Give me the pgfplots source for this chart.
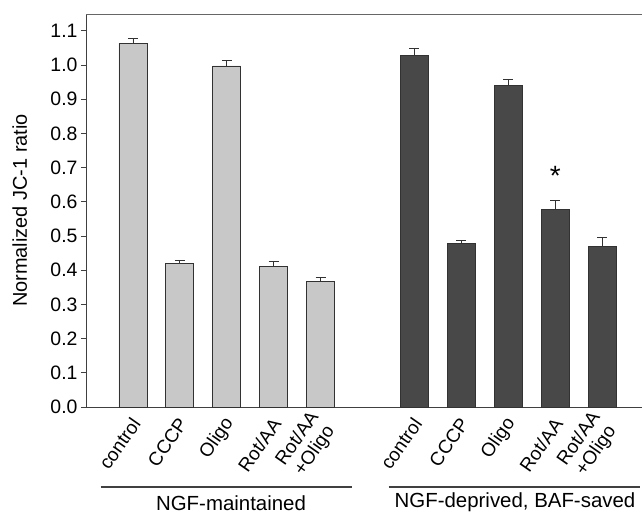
\documentclass[border=0pt]{standalone}
\usepackage{fontspec}
\setmainfont{Liberation Sans}
\usepackage{pgfplots}
\pgfplotsset{compat=1.18}
\definecolor{lightbar}{RGB}{200,200,200}
\definecolor{darkbar}{RGB}{72,72,72}
\definecolor{edge}{RGB}{50,50,50}
\newcommand\chartfont{\fontsize{19}{21}\selectfont}
\begin{document}
\begin{tikzpicture}[x=1bp,y=1bp,font=\chartfont]
\begin{axis}[
  at={(0,0)}, anchor=south west,
  scale only axis, width=556bp, height=393bp,
  xmin=0, xmax=11.85, ymin=0, ymax=1.149,
  axis lines*=left,
  axis line style={black!75, line width=0.8pt},
  ytick={0,0.1,...,1.1},
  yticklabel style={font=\fontsize{19.5}{21}\selectfont, /pgf/number format/fixed,/pgf/number format/precision=1,/pgf/number format/fixed zerofill},
  /pgf/number format/assume math mode=true,
  tick align=outside,
  major tick length=5bp,
  ytick style={black!75, line width=0.8pt},
  xtick={1,2,3,4,5,7,8,9,10,11},
  xticklabels={control,CCCP,Oligo,Rot/AA,{Rot/AA\\+Oligo},control,CCCP,Oligo,Rot/AA,{Rot/AA\\+Oligo}},
  xtick style={draw=none},
  xticklabel style={rotate=55, anchor=east, align=center, inner sep=1pt, xshift=-4bp, yshift=-7.3bp},
  ylabel={Normalized JC-1 ratio},
  ylabel style={at={(axis description cs:-0.119,0.5)}, anchor=center, font=\fontsize{20}{22}\selectfont},
  ybar, bar width=28bp, bar shift=0pt,
  error bars/y dir=plus, error bars/y explicit,
  error bars/error mark options={rotate=90, mark size=5bp, line width=0.8pt, draw=edge},
  error bars/error bar style={line width=0.8pt, draw=edge},
  clip=false,
]
\addplot[fill=lightbar, draw=edge, line width=0.8pt] coordinates {
  (1,1.063) +- (0,0.015)
  (2,0.420) +- (0,0.009)
  (3,0.997) +- (0,0.016)
  (4,0.410) +- (0,0.017)
  (5,0.366) +- (0,0.012)
};
\addplot[fill=darkbar, draw=edge, line width=0.8pt] coordinates {
  (7,1.027) +- (0,0.022)
  (8,0.477) +- (0,0.010)
  (9,0.940) +- (0,0.017)
  (10,0.578) +- (0,0.027)
  (11,0.469) +- (0,0.027)
};
\draw[black!60, line width=0.8pt] (rel axis cs:0,1) -- (rel axis cs:1,1);
\node[anchor=base, font=\fontsize{28}{28}\selectfont] at (axis cs:10,0.648) {*};
\end{axis}
\draw[black!75, line width=1.2pt] (14.7,-80) -- (266,-80);
\draw[black!75, line width=1.2pt] (302.7,-80) -- (554,-80);
\node[font=\fontsize{20.5}{22}\selectfont] at (145,-96) {NGF-maintained};
\node[font=\fontsize{20.5}{22}\selectfont] at (429,-95) {NGF-deprived, BAF-saved};
\pgfresetboundingbox
\path[use as bounding box] (-86,-107) rectangle (556,407);
\end{tikzpicture}
\end{document}
